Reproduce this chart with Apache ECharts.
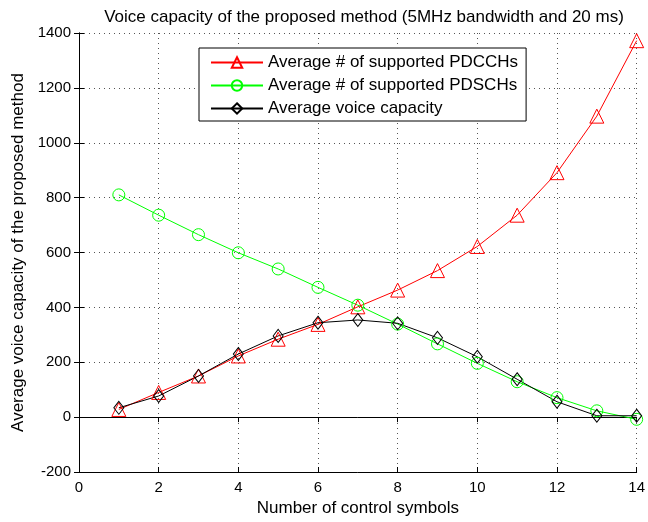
<!DOCTYPE html>
<html><head><meta charset="utf-8">
<script src="https://cdn.jsdelivr.net/npm/echarts@6/dist/echarts.min.js"></script>
<style>html,body{margin:0;padding:0;background:#fff}#c{width:648px;height:522px}</style>
</head><body><div id="c"></div>
<script>
const symbols = [1,2,3,4,5,6,7,8,9,10,11,12,13,14];
const pdcch = [28, 90, 150, 223, 284, 338, 402, 463, 534, 622, 736, 891, 1097, 1372];
const pdsch = [810, 736, 665, 599, 540, 473, 408, 339, 267, 196, 129, 71, 23, -8];
const voice = [34, 77, 150, 230, 296, 344, 354, 342, 289, 220, 138, 56, 5, 5];
const seriesNames = ['Average # of supported PDCCHs','Average # of supported PDSCHs','Average voice capacity'];
const yTicks = {min:-200, max:1400, interval:200};
const xTicks = {min:0, max:14, interval:2};

const font = 'Liberation Sans, Arial, Helvetica, sans-serif';
const chart = echarts.init(document.getElementById('c'), null, {renderer:'canvas'});
function pairs(v){ return symbols.map((x,i)=>[x,v[i]]); }
function mk(name, data, color, symbol, size){
  return {name, type:'line', data:pairs(data), symbol, symbolSize:size,
    lineStyle:{color, width:1}, itemStyle:{color:'rgba(0,0,0,0)', borderColor:color, borderWidth:1},
    emphasis:{disabled:true}, animation:false, z:3};
}
const gridLine = {show:true, lineStyle:{color:'#555', type:[1,4], width:1}};
chart.setOption({
  backgroundColor:'#fff',
  title:{text:'Voice capacity of the proposed method (5MHz bandwidth and 20 ms)', left:359, textAlign:'center', top:4,
    textStyle:{fontFamily:font, fontSize:17, fontWeight:'normal', color:'#000'}},
  grid:{left:79, right:11, top:33, bottom:50, show:false},
  legend:{orient:'vertical', left:199, top:48, itemWidth:52, itemHeight:13, itemGap:6, itemTextGap:7,
    padding:[6,8,4,11], borderColor:'#000', borderWidth:1, backgroundColor:'#fff',
    textStyle:{fontFamily:font, fontSize:17, color:'#000'}, data:seriesNames, selectedMode:false},
  xAxis:[{type:'value', min:xTicks.min, max:xTicks.max, interval:xTicks.interval,
    name:'Number of control symbols', nameLocation:'middle', nameGap:26,
    nameTextStyle:{fontFamily:font, fontSize:17, color:'#000'},
    axisLine:{show:true, onZero:false, lineStyle:{color:'#000', width:1}},
    axisTick:{show:true, inside:true, length:5, lineStyle:{color:'#000'}},
    axisLabel:{fontFamily:font, fontSize:15, color:'#000', margin:8},
    splitLine:gridLine},
   {type:'value', position:'top', min:xTicks.min, max:xTicks.max, interval:xTicks.interval,
    axisLine:{show:true, lineStyle:{color:'#000', width:1}},
    axisTick:{show:true, inside:true, length:5, lineStyle:{color:'#000'}},
    axisLabel:{show:false}, splitLine:{show:false}}],
  yAxis:[{type:'value', min:yTicks.min, max:yTicks.max, interval:yTicks.interval,
    name:'Average voice capacity of the proposed method', nameLocation:'middle', nameGap:52,
    nameTextStyle:{fontFamily:font, fontSize:17, color:'#000'},
    axisLine:{show:true, onZero:false, lineStyle:{color:'#000', width:1}},
    axisTick:{show:true, inside:true, length:5, lineStyle:{color:'#000'}},
    axisLabel:{fontFamily:font, fontSize:15, color:'#000', margin:8, formatter:v=>String(v)},
    splitLine:gridLine},
   {type:'value', position:'right', min:yTicks.min, max:yTicks.max, interval:yTicks.interval,
    axisLine:{show:true, lineStyle:{color:'#000', width:1}},
    axisTick:{show:true, inside:true, length:5, lineStyle:{color:'#000'}},
    axisLabel:{show:false}, splitLine:{show:false}}],
  series:[
    mk(seriesNames[0], pdcch, '#ff0000', 'triangle', 14),
    mk(seriesNames[1], pdsch, '#00ff00', 'circle', 12),
    mk(seriesNames[2], voice, '#000000', 'diamond', [10,13])
  ]
});
</script></body></html>
